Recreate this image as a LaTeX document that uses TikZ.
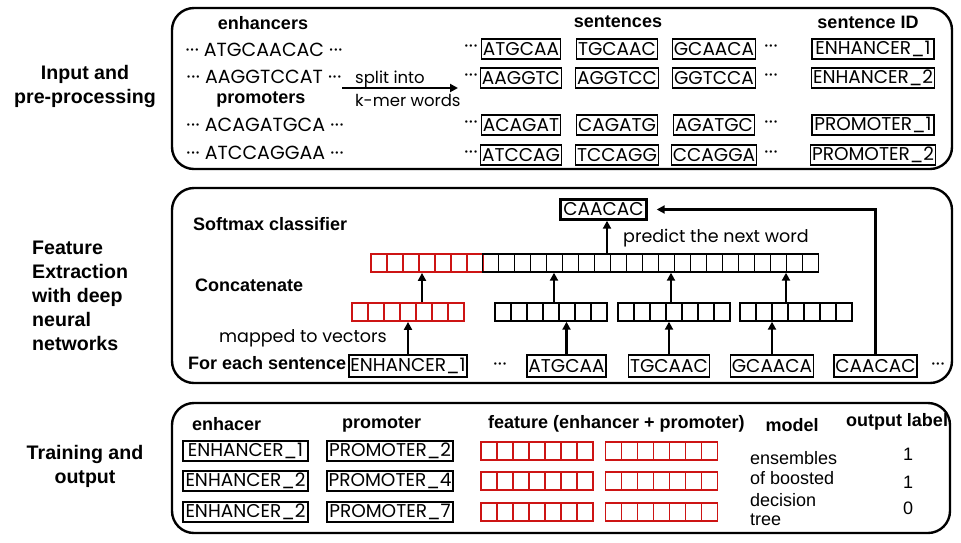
\documentclass[tikz,border=0pt]{standalone}
\usepackage{fontspec}
\setmainfont{Liberation Sans}
\newfontfamily\geo{Poppins}
\usetikzlibrary{arrows.meta}
\definecolor{vred}{RGB}{205,20,20}
\newcommand{\mydots}{{\geo ·\kern0.6pt·\kern0.6pt·}}
\begin{document}
\begin{tikzpicture}[x=1pt,y=-1pt,
  panel/.style={draw, line width=2.4pt, rounded corners=22pt},
  hdr/.style={font=\bfseries\fontsize{18}{22}\selectfont, inner sep=0pt},
  lab/.style={font=\bfseries\fontsize{19.6}{24}\selectfont, inner sep=0pt},
  seq/.style={font=\geo\fontsize{19}{20}\selectfont, inner sep=0pt},
  note/.style={font=\geo\fontsize{17.5}{19}\selectfont, inner sep=0pt},
  plain/.style={font=\fontsize{18}{20}\selectfont, inner sep=0pt},
  wbox/.style={draw, line width=1.5pt, inner xsep=1.5pt, inner ysep=0pt, minimum height=20pt, font=\geo\fontsize{18.5}{20}\selectfont},
  idbox/.style={wbox, minimum width=122pt},
  arr/.style={-{Triangle[length=8pt,width=8pt]}, line width=2.2pt},
  cells/.style={draw=#1, line width=1.4pt, minimum height=18pt, minimum width=112pt, inner sep=0pt,
    path picture={\foreach \i in {1,...,27}{\draw[#1, line width=1.4pt] ([xshift=\i*16pt]path picture bounding box.south west) -- ([xshift=\i*16pt]path picture bounding box.north west);}}},
  rcells/.style={cells=vred, line width=1.8pt}
]
\useasboundingbox (0,0) rectangle (961,542);

% ---------- panels ----------
\draw[panel] (172,8) rectangle (952,169);
\draw[panel] (172,188) rectangle (952,383);
\draw[panel] (172,403) rectangle (950,533);

% ---------- left labels ----------
\node[lab, align=center] (l1) at (85,86) {Input and\\pre-processing};
\node[lab, align=left, anchor=west] (l2) at (32,296) {Feature\\Extraction\\with deep\\neural\\networks};
\node[lab, align=center] (l3) at (85,466) {Training and\\output};

% ---------- panel 1 ----------
\node[hdr] (h1) at (263,23) {enhancers};
\node[hdr] (h2) at (261,99) {promoters};
\node[hdr] (h3) at (618,22) {sentences};
\node[hdr] (h4) at (868,22) {sentence ID};
\node[seq] (e1) at (264,50) {\mydots{} ATGCAACAC \mydots};
\node[seq] (e2) at (264,77) {\mydots{} AAGGTCCAT \mydots};
\node[seq] (p1) at (265,125) {\mydots{} ACAGATGCA \mydots};
\node[seq] (p2) at (265,153) {\mydots{} ATCCAGGAA \mydots};
\node[font=\geo\fontsize{16.5}{19}\selectfont, inner sep=0pt, anchor=west] (sp1) at (355,79) {split into};
\node[font=\geo\fontsize{16.5}{19}\selectfont, inner sep=0pt, anchor=west] (sp2) at (355,100) {k-mer words};
\coordinate (sa) at (342,88);
\coordinate (sb) at (458,88);
\draw[arr] (sa) -- (sb);

\foreach \r/\y/\a/\b/\c/\d in {1/49/ATGCAA/TGCAAC/GCAACA/ENHANCER\_1,
                               2/78/AAGGTC/AGGTCC/GGTCCA/ENHANCER\_2,
                               3/125/ACAGAT/CAGATG/AGATGC/PROMOTER\_1,
                               4/155/ATCCAG/TCCAGG/CCAGGA/PROMOTER\_2}{
  \node[seq] (da\r) at (471,\y) {\mydots};
  \node[wbox] (wa\r) at (521,\y) {\a};
  \node[wbox] (wb\r) at (617,\y) {\b};
  \node[wbox] (wc\r) at (714,\y) {\c};
  \node[seq] (db\r) at (771,\y) {\mydots};
  \node[idbox] (id\r) at (873,\y) {\d};
}

% ---------- panel 2 ----------
\node[hdr, anchor=west] (sm) at (193,224) {Softmax classifier};
\node[hdr, anchor=west] (cc) at (195,285) {Concatenate};
\node[hdr, anchor=west] (fe) at (188,363) {For each sentence};
\node[note, anchor=west] (mv) at (219,338) {mapped to vectors};
\node[note, anchor=west] (pn) at (623,238) {predict the next word};

\node[wbox, line width=2.4pt, minimum width=86pt] (tgt) at (603.5,209.5) {CAACAC};

\node[rcells, anchor=west] (cr) at (370,263) {};
\node[cells=black, anchor=west, minimum width=336pt] (cb) at (482,263) {};

\node[rcells] (sr) at (408,312) {};
\node[cells=black] (v1) at (551,312) {};
\node[cells=black] (v2) at (674,312) {};
\node[cells=black] (v3) at (796,312) {};

\node[wbox, minimum height=22pt] (s0) at (408,366) {ENHANCER\_1};
\node[seq] (sd1) at (500,367) {\mydots};
\node[wbox, minimum height=22pt] (s1) at (566.5,366) {ATGCAA};
\node[wbox, minimum height=22pt] (s2) at (669,366) {TGCAAC};
\node[wbox, minimum height=22pt] (s3) at (772,366) {GCAACA};
\node[wbox, minimum height=22pt] (s4) at (875.5,366) {CAACAC};
\node[seq] (sd2) at (938,367) {\mydots};

\draw[arr] (s0.north) -- (sr.south);
\draw[arr] ([xshift=14pt]sr.north) -- ([xshift=14pt]sr.north |- cr.south);
\draw[arr] (s1.north) -- (s1.north |- v1.south);
\draw[arr] ([xshift=3pt]v1.north) -- ([xshift=3pt]v1.north |- cb.south);
\draw[arr] (s2.north) -- (s2.north |- v2.south);
\draw[arr] ([xshift=-3pt]v2.north) -- ([xshift=-3pt]v2.north |- cb.south);
\draw[arr] (s3.north) -- (s3.north |- v3.south);
\draw[arr] ([xshift=-10pt]v3.north) -- ([xshift=-10pt]v3.north |- cb.south);
\draw[arr] ([xshift=3.5pt]tgt.south |- cb.north) -- ([xshift=3.5pt]tgt.south);
\draw[arr] (s4.north) |- ([xshift=9pt]tgt.east);

% ---------- panel 3 ----------
\node[hdr, anchor=west] (t1) at (192,424) {enhacer};
\node[hdr, anchor=west] (t2) at (342,424) {promoter};
\node[hdr, anchor=west] (t3) at (488,424) {feature (enhancer + promoter)};
\node[hdr] (t4) at (792,425) {model};
\node[hdr] (t5) at (897,422) {output label};

\foreach \r/\y/\e/\p/\o/\oy in {1/451/ENHANCER\_1/PROMOTER\_2/1/454,
                               2/481/ENHANCER\_2/PROMOTER\_4/1/482,
                               3/512/ENHANCER\_2/PROMOTER\_7/0/508}{
  \node[wbox, minimum width=125pt] (en\r) at (245.5,\y) {\e};
  \node[wbox, minimum width=126pt] (pr\r) at (390,\y) {\p};
  \node[rcells] (fa\r) at (537,\y) {};
  \node[rcells] (fb\r) at (661.5,\y) {};
  \node[plain] (ol\r) at (908,\oy) {\o};
}
\node[plain, anchor=west] (md1) at (750,458) {ensembles};
\node[plain, anchor=west] (md2) at (750,478) {of boosted};
\node[plain, anchor=west] (md3) at (750,500) {decision};
\node[plain, anchor=west] (md4) at (750,520) {tree};
\end{tikzpicture}
\end{document}
